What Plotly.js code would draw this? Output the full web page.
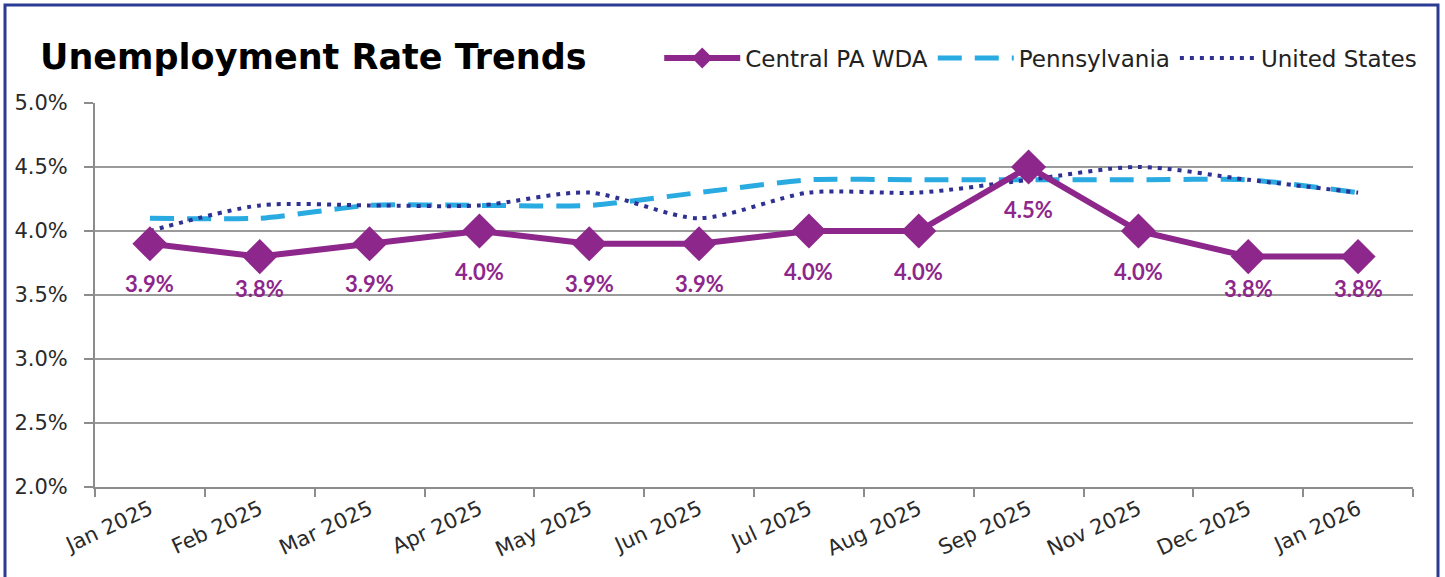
<!DOCTYPE html>
<html>
<head>
<meta charset="utf-8">
<script src="https://cdn.plot.ly/plotly-3.0.1.min.js"></script>
<style>
html,body{margin:0;padding:0;background:#fff;}
#chart{width:1445px;height:577px;}
</style>
</head>
<body>
<div id="chart"></div>
<script>
const months = ["Jan 2025","Feb 2025","Mar 2025","Apr 2025","May 2025","Jun 2025","Jul 2025","Aug 2025","Sep 2025","Nov 2025","Dec 2025","Jan 2026"];
const centralPA = [3.9,3.8,3.9,4.0,3.9,3.9,4.0,4.0,4.5,4.0,3.8,3.8];
const pennsylvania = [4.1,4.1,4.2,4.2,4.2,4.3,4.4,4.4,4.4,4.4,4.4,4.3];
const unitedStates = [4.0,4.2,4.2,4.2,4.3,4.1,4.3,4.3,4.4,4.5,4.4,4.3];
const yTicks = [2.0,2.5,3.0,3.5,4.0,4.5,5.0];

// label vertical offsets (px, styling only)
const labelShift = [-40,-32,-40,-40,-40,-40,-40,-40,-42,-40,-32,-32];

const purple = '#8E278C';
const lightBlue = '#29ABE2';
const navy = '#2E3192';
const tickFont = {family: '"DejaVu Sans", "Open Sans", sans-serif', size: 21, color: '#2a2a2a'};

const traces = [
  {
    x: months, y: pennsylvania, name: 'Pennsylvania', type: 'scatter', mode: 'lines',
    line: {color: lightBlue, width: 5, dash: '24px,13px', shape: 'spline', smoothing: 0.6},
    legendrank: 2, hoverinfo: 'skip'
  },
  {
    x: months, y: unitedStates, name: 'United States', type: 'scatter', mode: 'lines',
    line: {color: navy, width: 4, dash: '4px,6px', shape: 'spline', smoothing: 0.8},
    legendrank: 3, hoverinfo: 'skip'
  },
  {
    x: months, y: centralPA, name: 'Central PA WDA', type: 'scatter', mode: 'lines+markers',
    line: {color: purple, width: 6},
    marker: {symbol: 'diamond', size: 27, color: purple},
    legendrank: 1, hoverinfo: 'skip'
  }
];

const annotations = centralPA.map((v, i) => ({
  x: months[i], y: v, xref: 'x', yref: 'y', text: v.toFixed(1) + '%',
  showarrow: false, yshift: labelShift[i],
  font: {family: 'Lato, "Open Sans", sans-serif', size: 22, color: purple, weight: 'bold'}
}));

const layout = {
  width: 1445, height: 577,
  margin: {l: 95, r: 32, t: 103, b: 90},
  paper_bgcolor: '#ffffff', plot_bgcolor: '#ffffff',
  title: {
    text: '<b>Unemployment Rate Trends</b>',
    xref: 'container', yref: 'container',
    x: 40/1445, xanchor: 'left', y: 1 - 57/577, yanchor: 'middle',
    font: {family: '"DejaVu Sans", Lato, sans-serif', size: 35, color: '#000000'}
  },
  showlegend: true,
  legend: {
    orientation: 'h', xref: 'paper', yref: 'paper',
    x: 1.007, xanchor: 'right', y: 1.117, yanchor: 'middle',
    font: {family: '"DejaVu Sans", "Open Sans", sans-serif', size: 23, color: '#222222'},
    itemwidth: 76, tracegroupgap: 0, bgcolor: 'rgba(0,0,0,0)'
  },
  xaxis: {
    type: 'category', range: [-0.5, 11.5],
    showgrid: false, showline: true, linecolor: '#8c8c8c', linewidth: 2,
    ticks: 'outside', tickson: 'boundaries', ticklen: 8, tickwidth: 2, tickcolor: '#8c8c8c',
    tickangle: -25,
    tickfont: tickFont,
    fixedrange: true
  },
  yaxis: {
    range: [2, 5], tickvals: yTicks, ticktext: yTicks.map(v => v.toFixed(1) + '%'),
    showgrid: true, gridcolor: '#9a9a9a', gridwidth: 2,
    showline: true, linecolor: '#8c8c8c', linewidth: 2,
    ticks: 'outside', ticklen: 9, tickwidth: 2, tickcolor: '#8c8c8c',
    ticklabelstandoff: 12,
    tickfont: tickFont,
    zeroline: false, fixedrange: true
  },
  annotations: annotations,
  shapes: [{
    type: 'rect', xref: 'paper', yref: 'paper',
    x0: (5 - 95) / 1318, x1: (1438 - 95) / 1318,
    y0: (487 - 590) / 384, y1: (487 - 5) / 384,
    line: {color: '#2B3A92', width: 3}, fillcolor: 'rgba(0,0,0,0)', layer: 'below'
  }]
};

Plotly.newPlot('chart', traces, layout, {displayModeBar: false, staticPlot: true});
</script>
</body>
</html>
